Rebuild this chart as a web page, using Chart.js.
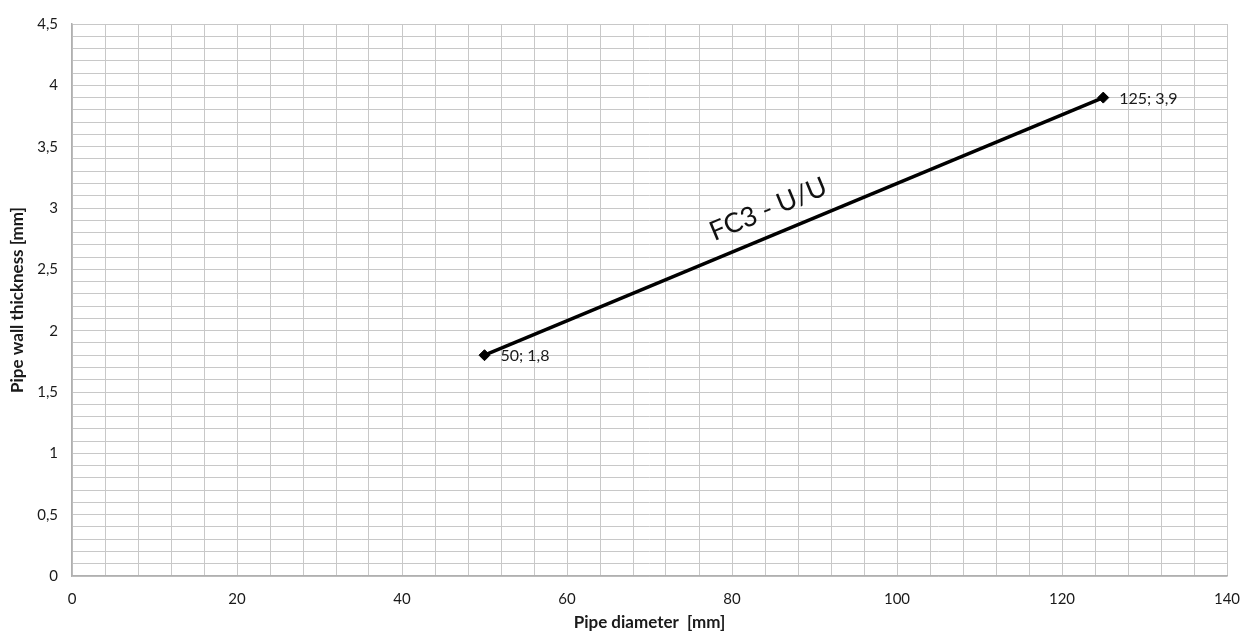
<!DOCTYPE html>
<html>
<head>
<meta charset="utf-8">
<script src="https://cdn.jsdelivr.net/npm/chart.js@4.4.1/dist/chart.umd.min.js"></script>
<style>
  html, body { margin: 0; padding: 0; background: #ffffff; }
  #wrap { width: 1244px; height: 633px; position: relative; }
</style>
</head>
<body>
<div id="wrap"><canvas id="c" width="1244" height="633"></canvas></div>
<script>
// ---- data ----
const seriesName = "FC3 - U/U";
const diameters = [50, 125];
const thickness = [1.8, 3.9];
const xTickLabels = [0, 20, 40, 60, 80, 100, 120, 140];
const yTickLabels = [0, 0.5, 1, 1.5, 2, 2.5, 3, 3.5, 4, 4.5];
const xTitle = "Pipe diameter  [mm]";
const yTitle = "Pipe wall thickness [mm]";
const seriesLabelAt = [84.4, 2.99];

const FONT = "Lato, 'Open Sans', 'Liberation Sans', sans-serif";
const fmt = v => String(Math.round(v * 100) / 100).replace('.', ',');

const pointLabels = {
  id: 'pointLabels',
  afterDatasetsDraw(chart) {
    const ctx = chart.ctx;
    const meta = chart.getDatasetMeta(0);
    ctx.save();
    ctx.font = "16px " + FONT;
    ctx.fillStyle = '#1a1a1a';
    ctx.textAlign = 'left';
    ctx.textBaseline = 'middle';
    meta.data.forEach((el, i) => {
      ctx.fillText(fmt(diameters[i]) + '; ' + fmt(thickness[i]), el.x + 16, el.y + 1);
    });
    const p0 = meta.data[0], p1 = meta.data[meta.data.length - 1];
    const ang = Math.atan2(p1.y - p0.y, p1.x - p0.x);
    const xs = chart.scales.x, ys = chart.scales.y;
    const cx = xs.getPixelForValue(seriesLabelAt[0]);
    const cy = ys.getPixelForValue(seriesLabelAt[1]);
    ctx.translate(cx, cy);
    ctx.rotate(ang);
    ctx.font = "27px " + FONT;
    ctx.fillStyle = '#111111';
    ctx.textAlign = 'center';
    ctx.fillText(seriesName, 0, 0);
    ctx.restore();
  }
};

new Chart(document.getElementById('c'), {
  type: 'scatter',
  data: {
    datasets: [{
      label: seriesName,
      data: diameters.map((d, i) => ({ x: d, y: thickness[i] })),
      showLine: true,
      borderColor: '#000000',
      borderWidth: 3.5,
      backgroundColor: '#000000',
      pointStyle: 'rectRot',
      pointRadius: 5.5,
      pointBorderWidth: 1,
      pointBorderColor: '#000000',
      pointBackgroundColor: '#000000'
    }]
  },
  options: {
    responsive: false,
    animation: false,
    layout: { padding: { top: 24, right: 17, left: 0, bottom: 0 } },
    plugins: { legend: { display: false }, tooltip: { enabled: false } },
    scales: {
      x: {
        type: 'linear',
        min: 0, max: 140,
        afterFit(s) { s.height = 57; s.paddingRight = 0; s.paddingLeft = 0; },
        border: { display: true, color: '#b0b0b0', width: 1.5 },
        grid: { color: '#c8c8c8', lineWidth: 1, drawTicks: false },
        ticks: {
          stepSize: 4, autoSkip: false, maxRotation: 0, padding: 14,
          color: '#1a1a1a', font: { family: FONT, size: 15 },
          callback: v => xTickLabels.some(t => Math.abs(t - v) < 1e-6) ? fmt(v) : ''
        },
        title: {
          display: true, text: xTitle, color: '#1a1a1a',
          font: { family: FONT, size: 17, weight: 'bold' },
          padding: { top: 0, bottom: 0 }
        }
      },
      y: {
        type: 'linear',
        min: 0, max: 4.5,
        afterFit(s) { s.width = 72; s.paddingTop = 0; s.paddingBottom = 0; },
        border: { display: true, color: '#b0b0b0', width: 1.5 },
        grid: { color: '#c8c8c8', lineWidth: 1, drawTicks: false },
        ticks: {
          stepSize: 0.1, autoSkip: false, padding: 14,
          color: '#1a1a1a', font: { family: FONT, size: 15 },
          callback: v => yTickLabels.some(t => Math.abs(t - v) < 1e-6) ? fmt(v) : ''
        },
        title: {
          display: true, text: yTitle, color: '#1a1a1a',
          font: { family: FONT, size: 17, weight: 'bold' },
          padding: { top: 7, bottom: 0 }
        }
      }
    }
  },
  plugins: [pointLabels]
});
</script>
</body>
</html>
